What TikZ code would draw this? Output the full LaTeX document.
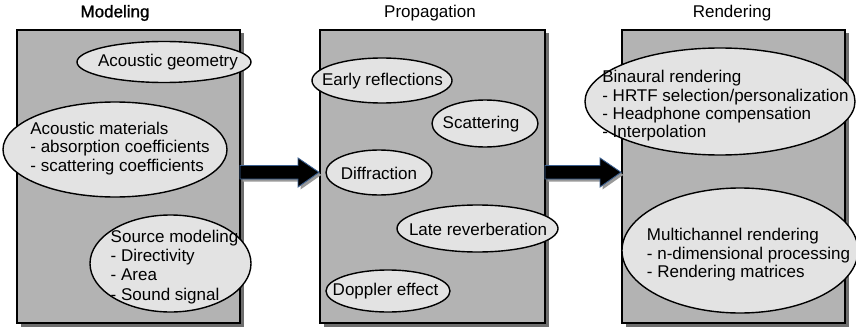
\documentclass[tikz,border=0pt]{standalone}
\usepackage{fontspec}
\setmainfont{Liberation Sans}
\newfontfamily\titlebold{Liberation Sans}[FakeBold=1.2]
\usetikzlibrary{shapes.geometric,shadows,calc}
\definecolor{boxfill}{HTML}{B3B3B3}
\definecolor{ellfill}{HTML}{E3E3E3}
\definecolor{shadowgray}{HTML}{6E6E6E}
\definecolor{arrowedge}{HTML}{3B5F8F}
\tikzset{
  stagebox/.style={draw=black, line width=2pt, fill=boxfill, rectangle,
    minimum height=293pt, inner sep=0pt,
    drop shadow={shadow xshift=3.5pt, shadow yshift=-3.5pt, fill=shadowgray, opacity=1}},
  blob/.style={draw=black, line width=1.4pt, fill=ellfill, ellipse, inner sep=0pt},
  lbl/.style={font=\fontsize{17}{18.4}\selectfont, inner sep=0pt, text=black},
  mlbl/.style={lbl, align=left},
  ttl/.style={font=\fontsize{17}{18.4}\selectfont, inner sep=0pt},
  bigarrow/.style={fill=black, draw=arrowedge, line width=0.9pt,
    drop shadow={shadow xshift=2.5pt, shadow yshift=-2.5pt, fill=shadowgray!70, opacity=1}}
}
\begin{document}
\begin{tikzpicture}[x=1pt, y=-1pt]
\useasboundingbox (0,0) rectangle (856,329);

% titles
\node[ttl] (tmod) at (115,13) {\titlebold Modeling};
\node[ttl] (tprop) at (430,13) {Propagation};
\node[ttl] (trend) at (732,13) {Rendering};

% stage boxes
\node[stagebox, minimum width=223pt] (mod) at (128.5,176.5) {};
\node[stagebox, minimum width=225pt] (prop) at (432.5,176.5) {};
\node[stagebox, minimum width=223pt] (rend) at (733.5,176.5) {};

% arrows
\coordinate (a1s) at (mod.east |- 0,172.3);
\coordinate (a1t) at (prop.west |- 0,172.3);
\draw[bigarrow] ($(a1s)+(-1,-6.8)$) -- ($(a1t)+(-21,-6.8)$) -- ($(a1t)+(-21,-14.3)$)
   -- (a1t) -- ($(a1t)+(-21,14.7)$) -- ($(a1t)+(-21,6.7)$) -- ($(a1s)+(-1,6.7)$) -- cycle;
\coordinate (a2s) at (prop.east |- 0,172.3);
\coordinate (a2t) at (rend.west |- 0,172.3);
\draw[bigarrow] ($(a2s)+(-1,-6.8)$) -- ($(a2t)+(-21,-6.8)$) -- ($(a2t)+(-21,-14.3)$)
   -- (a2t) -- ($(a2t)+(-21,14.7)$) -- ($(a2t)+(-21,6.7)$) -- ($(a2s)+(-1,6.7)$) -- cycle;

% Modeling
\node[blob, minimum width=174pt, minimum height=41pt] (geo) at (164,62) {};
\node[lbl] (geot) at (168,62.5) {Acoustic geometry};
\node[blob, minimum width=224pt, minimum height=95pt] (mat) at (115,149.5) {};
\node[mlbl] (matt) at (120,148.5) {Acoustic materials\\{-} absorption coefficients\\{-} scattering coefficients};
\node[blob, minimum width=161pt, minimum height=97pt] (src) at (170.5,263.5) {};
\node[mlbl, font=\fontsize{17}{19.2}\selectfont] (srct) at (174.5,267) {Source modeling\\{-} Directivity\\{-} Area\\{-} Sound signal};

% Propagation
\node[blob, minimum width=140pt, minimum height=45pt] (early) at (382,80.5) {};
\node[lbl] (earlyt) at (382.5,81) {Early reflections};
\node[blob, minimum width=106pt, minimum height=47pt] (scat) at (485,123.5) {};
\node[lbl] (scatt) at (481,124) {Scattering};
\node[blob, minimum width=106pt, minimum height=45pt] (diff) at (379,172.5) {};
\node[lbl] (difft) at (379,173) {Diffraction};
\node[blob, minimum width=161pt, minimum height=47pt] (late) at (477.5,228.5) {};
\node[lbl] (latet) at (478,229) {Late reverberation};
\node[blob, minimum width=124pt, minimum height=42pt] (dopp) at (388,291) {};
\node[lbl] (doppt) at (385.5,291.5) {Doppler effect};

% Rendering
\node[blob, minimum width=270pt, minimum height=107pt] (bin) at (720,101.5) {};
\node[mlbl] (bint) at (725.5,106) {Binaural rendering\\{-} HRTF selection/personalization\\{-} Headphone compensation\\{-} Interpolation};
\node[blob, minimum width=236pt, minimum height=125pt] (multi) at (740,250.5) {};
\node[mlbl] (multit) at (748.5,255) {Multichannel rendering\\{-} n-dimensional processing\\{-} Rendering matrices};
\end{tikzpicture}
\end{document}
